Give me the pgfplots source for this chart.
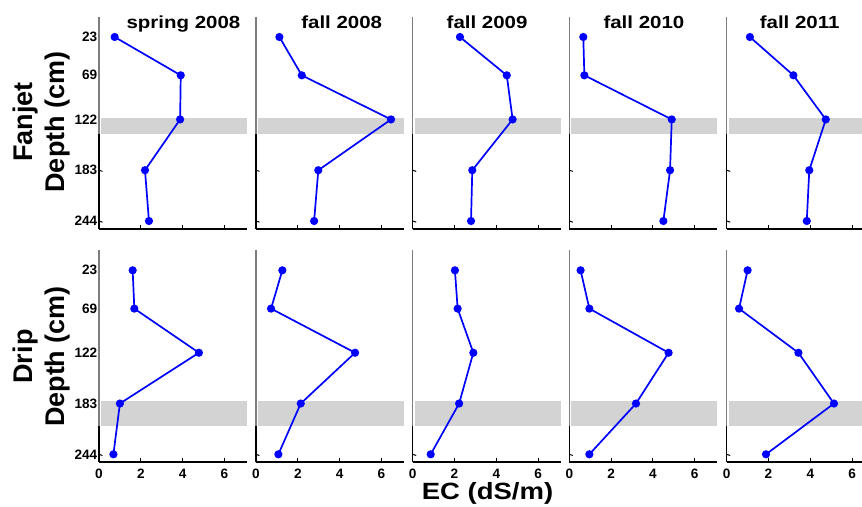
\documentclass[border=0pt]{standalone}
\usepackage{fontspec}
\setmainfont{Liberation Sans}
\newfontfamily\widefont[FakeStretch=1.17]{Liberation Sans}
\usepackage{pgfplots}
\pgfplotsset{compat=1.18}
\definecolor{bandgray}{RGB}{211,211,211}
\definecolor{spinegray}{RGB}{125,125,125}
\pgfplotsset{
  panel/.style={
    scale only axis, width=148pt, height=212.3pt,
    xmin=0, xmax=7.08, ymin=-1.4, ymax=253.6, y dir=reverse,
    axis line style={draw=none},
    xtick={0,2,4,6}, ytick={23,69,122,183,244},
    xtick pos=bottom, ytick pos=left,
    tick align=inside, major tick length=4pt,
    xtick style={black, line width=1pt}, ytick style={draw=none},
    clip=false, anchor=south west,
    /pgf/number format/assume math mode=true,
    ticklabel style={font=\bfseries\fontsize{13.6}{15}\selectfont},
    xticklabel style={yshift=-3pt},
    yticklabel style={inner sep=1.5pt},
    yticklabels={}, xticklabels={},
  },
  ylab/.style={yticklabels={23,69,122,183,244}},
  xlab/.style={xticklabels={0,2,4,6}},
  dat/.style={blue, line width=1.7pt, mark=*, mark size=3.2pt, mark options={solid}},
}
% #1 x-left, #2 y-bottom, #3 band top, #4 band bottom, #5 coords, #6 title, #7 title x, #8 extra opts, #9 ytick marks
\newcommand\panel[9]{%
\begin{axis}[panel, at={(#1pt,#2pt)}, #8]
  \addplot[fill=bandgray, draw=none] coordinates {(0.1,#3) (7.08,#3) (7.08,#4) (0.1,#4)} -- cycle;
  \draw[spinegray, line width=1.3pt] (axis cs:0,-1.4) -- (axis cs:0,#4);
  \draw[black, line width=1.3pt] (axis cs:0,#4) -- (axis cs:0,253.6);
  \draw[black, line width=2pt] (axis cs:0,253.6) -- (axis cs:7.08,253.6);
  \pgfplotsinvokeforeach{#9}{\draw[black, line width=1pt] (axis cs:0,##1) -- ++(3.5pt,0);}
  \addplot[dat] coordinates {#5};
  \node[anchor=base, font=\widefont\bfseries\fontsize{17.5}{20}\selectfont] at (axis cs:#7,12.5) {#6};
\end{axis}}
\begin{document}
\begin{tikzpicture}
\useasboundingbox (0pt,0pt) rectangle (862pt,506pt);
% top row: Fanjet
\panel{99}{277}{120}{140}{(0.75,23) (3.91,69) (3.88,122) (2.2,183) (2.39,244)}{spring 2008}{4.04}{ylab}{183,244}
\panel{256}{277}{120}{140}{(1.12,23) (2.19,69) (6.46,122) (2.98,183) (2.78,244)}{fall 2008}{4.1}{}{183,244}
\panel{412.7}{277}{120}{140}{(2.26,23) (4.5,69) (4.78,122) (2.85,183) (2.79,244)}{fall 2009}{3.56}{}{183,244}
\panel{569.3}{277}{120}{140}{(0.67,23) (0.72,69) (4.9,122) (4.82,183) (4.5,244)}{fall 2010}{3.57}{}{183,244}
\panel{726.7}{277}{120}{140}{(1.11,23) (3.19,69) (4.74,122) (3.95,183) (3.83,244)}{fall 2011}{3.49}{}{183,244}
% bottom row: Drip
\panel{99}{43.7}{180}{210}{(1.61,23) (1.69,69) (4.78,122) (1.0,183) (0.69,244)}{}{4}{ylab,xlab}{244}
\panel{256}{43.7}{180}{210}{(1.26,23) (0.72,69) (4.74,122) (2.14,183) (1.07,244)}{}{4}{xlab}{244}
\panel{412.7}{43.7}{180}{210}{(2.02,23) (2.15,69) (2.9,122) (2.22,183) (0.86,244)}{}{4}{xlab}{244}
\panel{569.3}{43.7}{180}{210}{(0.54,23) (0.96,69) (4.75,122) (3.19,183) (0.96,244)}{}{4}{xlab}{244}
\panel{726.7}{43.7}{180}{210}{(1.0,23) (0.59,69) (3.43,122) (5.13,183) (1.88,244)}{}{4}{xlab}{244}
% row labels
\node[rotate=90, anchor=base, font=\bfseries\fontsize{27}{30}\selectfont] at (32pt,384pt) {Fanjet};
\node[rotate=90, anchor=base, font=\bfseries\fontsize{27}{30}\selectfont] at (64.3pt,384pt) {Depth (cm)};
\node[rotate=90, anchor=base, font=\bfseries\fontsize{27}{30}\selectfont] at (32pt,149.5pt) {Drip};
\node[rotate=90, anchor=base, font=\bfseries\fontsize{27}{30}\selectfont] at (64.3pt,149.5pt) {Depth (cm)};
% x label
\node[anchor=base, font=\widefont\bfseries\fontsize{23.5}{26}\selectfont] at (487.5pt,6pt) {EC (dS/m)};
\end{tikzpicture}
\end{document}
